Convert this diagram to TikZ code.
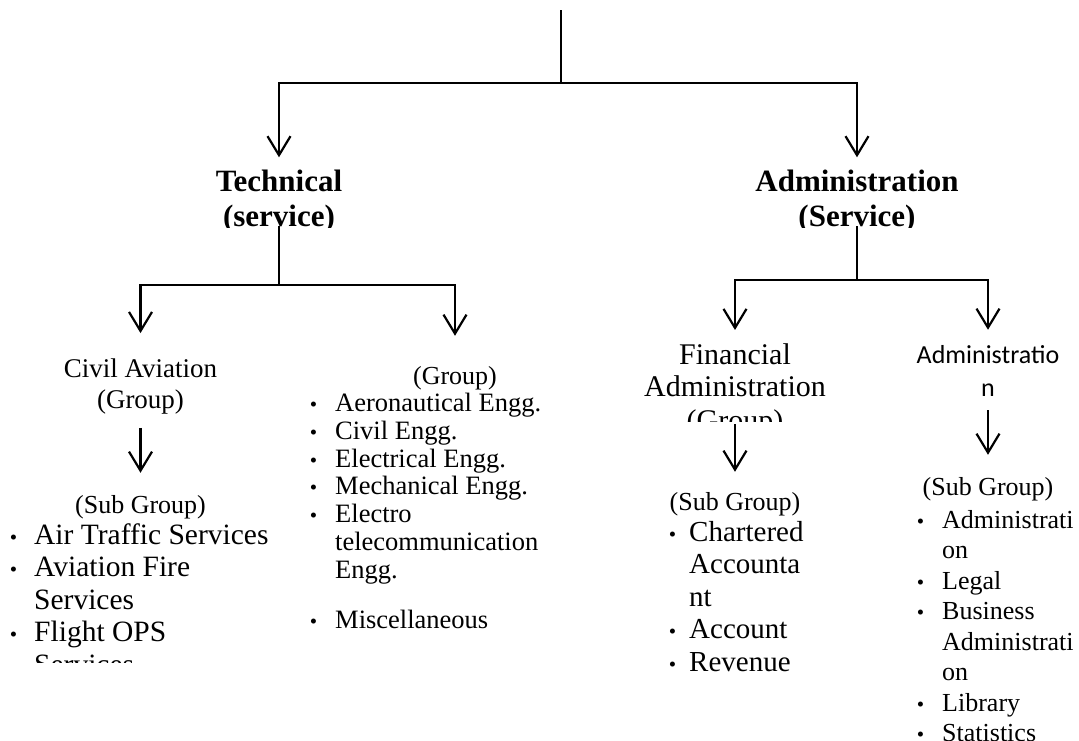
\documentclass[tikz,border=0pt]{standalone}
\usepackage{fontspec}
\setmainfont{Liberation Serif}
\newfontfamily\calib{Carlito}
\usetikzlibrary{arrows.meta}
\newcommand\bul[1]{\llap{{\fontsize{21}{21}\selectfont\textbullet}\hspace{#1}}}
\begin{document}
\begin{tikzpicture}[x=1pt,y=-1pt,
  conn/.style={line width=2.7pt, line join=miter},
  arr/.style={conn, -{Straight Barb[length=19pt,width=23pt,line width=2.2pt]}},
  hb/.style={inner sep=0pt, anchor=base, font=\fontsize{31}{31}\selectfont\bfseries},
  hfin/.style={inner sep=0pt, anchor=base, font=\fontsize{30}{30}\selectfont},
  hsans/.style={inner sep=0pt, anchor=base, font=\calib\fontsize{26}{26}\selectfont},
  hreg/.style={inner sep=0pt, anchor=base, font=\fontsize{26}{26}\selectfont},
  hciv/.style={inner sep=0pt, anchor=base, font=\fontsize{27}{27}\selectfont},
  lbig/.style={inner sep=0pt, anchor=base west, font=\fontsize{29.5}{30}\selectfont},
  lmid/.style={inner sep=0pt, anchor=base west, font=\fontsize{29}{30}\selectfont},
  lsmall/.style={inner sep=0pt, anchor=base west, font=\fontsize{26.5}{27}\selectfont},
  lsm/.style={inner sep=0pt, anchor=base west, font=\fontsize{26}{27}\selectfont}
]
\clip (0,0) rectangle (1079,740);
\fill[white] (0,0) rectangle (1079,740);

% ---- headers level 1
\begin{scope}
  \clip (0,150) rectangle (1079,227);
  \node[hb] (tech1) at (279,191) {Technical};
  \node[hb] (tech2) at (279,226) {(service)};
  \node[hb] (adm1) at (857,191) {Administration};
  \node[hb] (adm2) at (857,226) {(Service)};
\end{scope}

% ---- level 2 headers
\node[hciv] (civ1) at (140.5,377) {Civil Aviation};
\node[hciv] (civ2) at (140.5,408) {(Group)};
\node[hreg] (grp) at (455,384) {(Group)};
\begin{scope}
  \clip (600,330) rectangle (880,421);
  \node[hfin] (fin1) at (735,364) {Financial};
  \node[hfin] (fin2) at (735,396) {Administration};
  \node[hfin] (fin3) at (735,430) {(Group)};
\end{scope}
\node[hsans] (adr1) at (988,363) {Administratio};
\node[hsans] (adr2) at (988,396) {n};

% ---- sub group labels
\node[hreg] (suba) at (140.5,513) {(Sub Group)};
\node[hreg] (subc) at (735,510) {(Sub Group)};
\node[hreg] (subd) at (988,495) {(Sub Group)};

% ---- list A
\begin{scope}
  \clip (0,480) rectangle (300,662);
  \foreach \t/\b [count=\i] in {{Air Traffic Services}/1,{Aviation Fire}/1,{Services}/0,{Flight OPS}/1,{Services}/0}
    \node[lbig] (a\i) at (34,{544+32.5*(\i-1)}) {\ifnum\b=1 \bul{17pt}\fi\t};
\end{scope}

% ---- list B
\foreach \t/\b/\y [count=\i] in {{Aeronautical Engg.}/1/411.5,{Civil Engg.}/1/439.3,{Electrical Engg.}/1/467.1,{Mechanical Engg.}/1/494.9,{Electro}/1/522.7,{telecommunication}/0/550.5,{Engg.}/0/578.3,{Miscellaneous}/1/628}
  \node[lsmall] (b\i) at (335,\y) {\ifnum\b=1 \bul{18pt}\fi\t};

% ---- list C
\foreach \t/\b [count=\i] in {{Chartered}/1,{Accounta}/0,{nt}/0,{Account}/1,{Revenue}/1}
  \node[lmid] (c\i) at (689,{541+32.5*(\i-1)}) {\ifnum\b=1 \bul{13pt}\fi\t};

% ---- list D
\foreach \t/\b [count=\i] in {{Administrati}/1,{on}/0,{Legal}/1,{Business}/1,{Administrati}/0,{on}/0,{Library}/1,{Statistics}/1}
  \node[lsm] (d\i) at (942,{528+30.5*(\i-1)}) {\ifnum\b=1 \bul{18pt}\fi\t};

% ---- connectors
\coordinate (root) at (561,10);
\coordinate (j0) at (561,83);
\draw[conn] (root) -- (j0);
\draw[arr, shorten >=12pt] (j0) -| (tech1.north);
\draw[arr, shorten >=12pt] (j0) -| (adm1.north);

\coordinate (j1) at (279,285);
\draw[conn] (tech2.base) -- (j1);
\draw[arr, shorten >=25pt] (j1) -| (civ1.north);
\draw[arr, shorten >=30pt] (j1) -| (grp.north);

\coordinate (j2) at (857,280);
\draw[conn] (adm2.base) -- (j2);
\draw[arr, shorten >=13pt] (j2) -| (fin1.north);
\draw[arr, shorten >=15pt] (j2) -| (adr1.north);

\draw[arr, shorten <=14pt, shorten >=22pt] (civ2.south) -- (suba.north);
\coordinate (finA) at (735,424);
\draw[arr, shorten >=20pt] (finA) -- (subc.north);
\draw[arr, shorten <=14pt, shorten >=22pt] (adr2.south) -- (subd.north);
\end{tikzpicture}
\end{document}
